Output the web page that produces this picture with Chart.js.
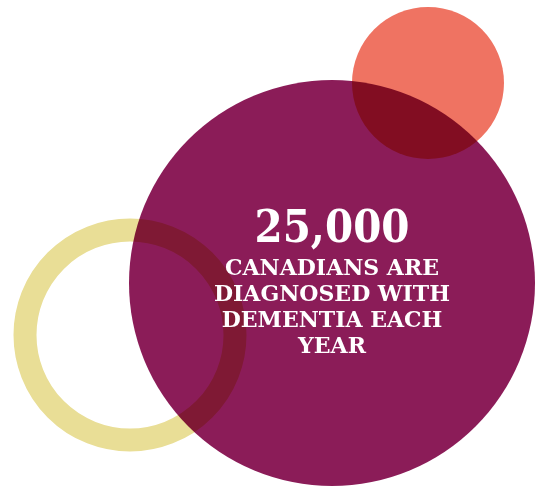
<!DOCTYPE html>
<html>
<head>
<meta charset="utf-8">
<script src="https://cdn.jsdelivr.net/npm/chart.js@4.4.1/dist/chart.umd.min.js"></script>
<style>
  html, body { margin: 0; padding: 0; background: #ffffff; }
  #wrap { width: 539px; height: 487px; }
</style>
</head>
<body>
<div id="wrap"><canvas id="myChart" width="539" height="487"></canvas></div>
<script>
// circles: centre x, centre y (in the 539 x 487 frame), radius
const circleNames = ["Dementia", "Accent", "Ring"];
const circleX = [332, 428, 130];
const circleY = [283, 83, 335];
const circleR = [203, 76, 105];
const circleColors = ["#8b1c58", "#ef7362", "#e9de96"];

const headline = "25,000";
const textLines = ["CANADIANS ARE", "DIAGNOSED WITH", "DEMENTIA EACH", "YEAR"];

// purple circle multiplies over the others
const blendPlugin = {
    id: 'blend',
    beforeDatasetDraw(chart, args) {
        if (args.index === 0) {
            chart.ctx.save();
            chart.ctx.globalCompositeOperation = 'multiply';
        }
    },
    afterDatasetDraw(chart, args) {
        if (args.index === 0) chart.ctx.restore();
    }
};

const textPlugin = {
    id: 'centreText',
    afterDatasetsDraw(chart) {
        const ctx = chart.ctx;
        const x = chart.scales.x.getPixelForValue(circleX[0]);
        ctx.save();
        ctx.fillStyle = "#ffffff";
        ctx.textAlign = "center";
        ctx.textBaseline = "alphabetic";
        ctx.font = "bold 45px 'DejaVu Serif Condensed', 'DejaVu Serif', serif";
        ctx.fillText(headline, x, chart.scales.y.getPixelForValue(242));
        ctx.font = "bold 22px 'DejaVu Serif', serif";
        textLines.forEach((line, i) => {
            ctx.fillText(line, x, chart.scales.y.getPixelForValue(274.5 + i * 26));
        });
        ctx.restore();
    }
};

new Chart("myChart", {
    type: "bubble",
    data: {
        datasets: [
            {
                label: circleNames[0],
                data: [{x: circleX[0], y: circleY[0], r: circleR[0]}],
                backgroundColor: circleColors[0],
                borderWidth: 0
            },
            {
                label: circleNames[1],
                data: [{x: circleX[1], y: circleY[1], r: circleR[1]}],
                backgroundColor: circleColors[1],
                borderWidth: 0
            },
            {
                label: circleNames[2],
                data: [{x: circleX[2], y: circleY[2], r: circleR[2]}],
                backgroundColor: "rgba(0,0,0,0)",
                borderColor: circleColors[2],
                borderWidth: 23
            }
        ]
    },
    options: {
        responsive: false,
        animation: false,
        events: [],
        clip: false,
        layout: {padding: 0, autoPadding: false},
        scales: {
            x: {type: "linear", min: 0, max: 539, display: false},
            y: {type: "linear", min: 0, max: 487, reverse: true, display: false}
        },
        plugins: {
            legend: {display: false},
            tooltip: {enabled: false}
        }
    },
    plugins: [blendPlugin, textPlugin]
});
</script>
</body>
</html>
